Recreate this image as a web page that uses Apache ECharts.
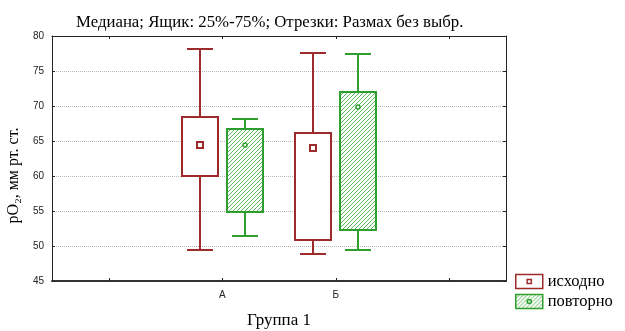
<!DOCTYPE html>
<html>
<head>
<meta charset="utf-8">
<script src="https://cdn.jsdelivr.net/npm/echarts@6/dist/echarts.min.js"></script>
<style>
  html, body { margin: 0; padding: 0; background: #fff; }
  #chart { width: 625px; height: 331px; }
</style>
</head>
<body>
<div id="chart"></div>
<script>
// Groups on the category axis (outer slots are empty padding)
const CATEGORIES = ['', 'А', 'Б', ''];
const Y_TICKS = { min: 45, max: 80, step: 5 };

// Box statistics per group: [category index, min, q25, median, q75, max]
const SERIES_NAMES = ['исходно', 'повторно'];
const ISHODNO = [
  [1, 49.5, 60.0, 64.5, 68.4, 78.1],
  [2, 48.8, 50.8, 64.0, 66.2, 77.6]
];
const POVTORNO = [
  [1, 51.4, 54.8, 64.5, 66.7, 68.2],
  [2, 49.5, 52.3, 69.8, 72.0, 77.4]
];

const RED = '#9e2b2b';
const GREEN = '#2e9e2e';
const SERIF = '"Liberation Serif", "DejaVu Serif", serif';
const SANS = '"Liberation Sans", Arial, sans-serif';

// Diagonal hatch tile for the second series
function hatchTile() {
  const c = document.createElement('canvas');
  c.width = 4; c.height = 4;
  const ctx = c.getContext('2d');
  ctx.fillStyle = '#ffffff';
  ctx.fillRect(0, 0, 4, 4);
  ctx.fillStyle = '#5cbc5c';
  for (let i = 0; i < 4; i++) ctx.fillRect(i, 3 - i, 1, 1);
  return c;
}
const HATCH = { image: hatchTile(), repeat: 'repeat' };

// Horizontal placement inside a category band (fractions of band width)
const OFFSETS = [-0.2, 0.2];
const BOX_W = 0.325;
const CAP_W = 0.23;

function renderBox(params, api) {
  const cat = api.value(0);
  const vals = [1, 2, 3, 4, 5].map(i => api.value(i));
  const band = api.size([1, 0])[0];
  const cx = Math.round(api.coord([cat, vals[2]])[0] + OFFSETS[params.seriesIndex] * band);
  const y = vals.map(v => Math.round(api.coord([cat, v])[1]));
  const half = Math.round(BOX_W * band / 2);
  const cap = Math.round(CAP_W * band / 2);
  const isSecond = params.seriesIndex === 1;
  const color = isSecond ? GREEN : RED;
  const line = { stroke: color, lineWidth: 2 };
  const children = [
    { type: 'line', shape: { x1: cx, y1: y[0], x2: cx, y2: y[1] }, style: line },
    { type: 'line', shape: { x1: cx, y1: y[3], x2: cx, y2: y[4] }, style: line },
    { type: 'line', shape: { x1: cx - cap, y1: y[0], x2: cx + cap, y2: y[0] }, style: line },
    { type: 'line', shape: { x1: cx - cap, y1: y[4], x2: cx + cap, y2: y[4] }, style: line },
    {
      type: 'rect',
      shape: { x: cx - half, y: y[3], width: half * 2, height: y[1] - y[3] },
      style: { fill: isSecond ? HATCH : '#ffffff', stroke: color, lineWidth: 2 }
    }
  ];
  if (isSecond) {
    children.push({ type: 'circle', shape: { cx: cx, cy: y[2], r: 2 },
      style: { fill: '#ffffff', stroke: color, lineWidth: 1.5 } });
  } else {
    children.push({ type: 'rect', shape: { x: cx - 3, y: y[2] - 3, width: 6, height: 6 },
      style: { fill: '#ffffff', stroke: color, lineWidth: 2 } });
  }
  return { type: 'group', children: children };
}

const ICON_SQUARE = 'path://M0 0H26V14H0ZM11 5H15V9H11Z';
const ICON_CIRCLE = 'path://M0 0H26V14H0ZM15 7A2 2 0 1 1 11 7A2 2 0 1 1 15 7Z';

const chart = echarts.init(document.getElementById('chart'), null, { renderer: 'canvas' });

const frameLine = { show: true, lineStyle: { color: '#222', width: 1 } };
const innerTick = { show: true, inside: true, length: 3, lineStyle: { color: '#222' } };

chart.setOption({
  backgroundColor: '#ffffff',
  animation: false,
  title: {
    text: 'Медиана; Ящик: 25%-75%; Отрезки: Размах без выбр.',
    left: 71,
    top: 9,
    textStyle: { fontFamily: SERIF, fontSize: 16.8, fontWeight: 'normal', color: '#000' }
  },
  legend: {
    orient: 'vertical',
    left: 515,
    top: 273,
    padding: 0,
    itemWidth: 27,
    itemHeight: 14,
    itemGap: 3,
    symbolKeepAspect: false,
    textStyle: { fontFamily: SERIF, fontSize: 16.5, lineHeight: 14, color: '#000' },
    data: [
      { name: SERIES_NAMES[0], icon: ICON_SQUARE,
        itemStyle: { color: '#ffffff', borderColor: RED, borderWidth: 1.5 } },
      { name: SERIES_NAMES[1], icon: ICON_CIRCLE,
        itemStyle: { color: HATCH, borderColor: GREEN, borderWidth: 1.5 } }
    ]
  },
  grid: { left: 52, right: 119, top: 36, bottom: 50, outerBoundsMode: 'none', containLabel: false },
  xAxis: [
    {
      type: 'category',
      data: CATEGORIES,
      position: 'bottom',
      axisLine: { show: true, lineStyle: { color: '#333', width: 2 } },
      axisTick: Object.assign({ alignWithLabel: true }, innerTick),
      axisLabel: { fontFamily: SANS, fontSize: 10, color: '#222', margin: 9 },
      name: 'Группа 1',
      nameLocation: 'middle',
      nameGap: 31,
      nameTextStyle: { fontFamily: SERIF, fontSize: 17, color: '#000' }
    },
    {
      type: 'category',
      data: CATEGORIES,
      position: 'top',
      axisLine: frameLine,
      axisTick: Object.assign({ alignWithLabel: true }, innerTick),
      axisLabel: { show: false }
    }
  ],
  yAxis: [
    {
      type: 'value',
      min: Y_TICKS.min,
      max: Y_TICKS.max,
      interval: Y_TICKS.step,
      position: 'left',
      axisLine: frameLine,
      axisTick: innerTick,
      axisLabel: { fontFamily: SANS, fontSize: 10, color: '#222', margin: 8 },
      splitLine: { show: true, lineStyle: { color: '#b8b8b8', type: 'dotted', width: 1 } },
      name: 'pO₂, мм рт. ст.',
      nameLocation: 'middle',
      nameGap: 24,
      nameTextStyle: { fontFamily: SERIF, fontSize: 16, color: '#000', padding: [0, 34, 0, 0] }
    },
    {
      type: 'value',
      min: Y_TICKS.min,
      max: Y_TICKS.max,
      interval: Y_TICKS.step,
      position: 'right',
      axisLine: frameLine,
      axisTick: innerTick,
      axisLabel: { show: false },
      splitLine: { show: false }
    }
  ],
  series: [
    {
      name: SERIES_NAMES[0],
      type: 'custom',
      xAxisIndex: 0,
      yAxisIndex: 0,
      renderItem: renderBox,
      encode: { x: 0, y: [1, 2, 3, 4, 5] },
      data: ISHODNO
    },
    {
      name: SERIES_NAMES[1],
      type: 'custom',
      xAxisIndex: 0,
      yAxisIndex: 0,
      renderItem: renderBox,
      encode: { x: 0, y: [1, 2, 3, 4, 5] },
      data: POVTORNO
    }
  ]
});
</script>
</body>
</html>
